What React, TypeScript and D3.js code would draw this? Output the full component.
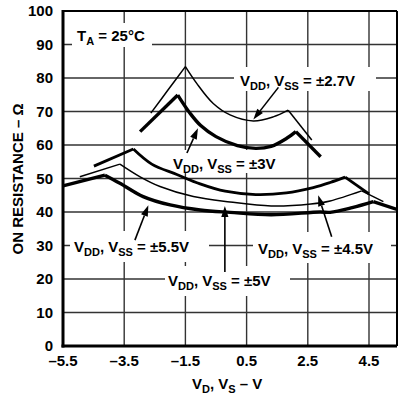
import React from "react";
import * as d3 from "d3";

type Pt = [number, number];

// Each series is given as segments split at its sharp peaks
const vdd27: Pt[][] = [
  [[-2.63, 69.5], [-2.07, 76.4], [-1.5, 83.4]],
  [[-1.5, 83.4], [-1.13, 78.4], [-0.59, 72.4], [-0.04, 69.0], [0.72, 67.2], [1.37, 68.4], [1.86, 70.4]],
  [[1.86, 70.4], [2.63, 61.5]],
];
const vdd3: Pt[][] = [
  [[-2.98, 64.0], [-1.75, 74.9]],
  [[-1.75, 74.9], [-1.35, 69.5], [-1.0, 65.8], [-0.5, 62.5], [0.2, 59.8], [0.8, 59.0], [1.3, 59.6], [1.81, 62.0], [2.11, 64.0]],
  [[2.11, 64.0], [2.92, 56.5]],
];
const vdd45: Pt[][] = [
  [[-4.49, 53.7], [-3.2, 58.8]],
  [[-3.2, 58.8], [-2.6, 54.3], [-1.78, 51.2], [-1.02, 48.4], [-0.2, 46.2], [0.8, 45.2], [1.8, 45.7], [2.68, 47.3], [3.23, 48.8], [3.72, 50.4]],
  [[3.72, 50.4], [4.5, 45.4]],
];
const vdd5: Pt[][] = [
  [[-4.95, 50.5], [-3.64, 54.3]],
  [[-3.64, 54.3], [-2.98, 50.5], [-2.33, 47.6], [-1.24, 44.6], [-0.04, 43.0], [1.3, 41.8], [2.6, 42.4], [3.23, 43.3], [4.26, 46.3]],
  [[4.26, 46.3], [4.97, 43.1]],
];
const vdd55: Pt[][] = [
  [[-5.5, 47.8], [-4.13, 51.0]],
  [[-4.13, 51.0], [-3.64, 48.6], [-2.88, 44.6], [-2.0, 42.1], [-1.02, 40.6], [-0.04, 39.9], [1.3, 39.2], [2.9, 40.0], [3.23, 39.9], [3.95, 41.3], [4.64, 43.1]],
  [[4.64, 43.1], [5.5, 40.5]],
];

const xTicks = [-5.5, -3.5, -1.5, 0.5, 2.5, 4.5];
const yTicks = [0, 10, 20, 30, 40, 50, 60, 70, 80, 90, 100];

// arrows: [tailX, tailY, tipX, tipY] in data units
const arrows: [number, number, number, number][] = [
  [1.54, 77.2, 0.72, 67.6],
  [-1.45, 57.6, -1.09, 65.0],
  [-3.15, 31.6, -2.71, 42.0],
  [-0.21, 22.1, -0.21, 41.8],
  [3.28, 32.6, 2.84, 45.0],
];

const FONT = "'Liberation Sans', Arial, Helvetica, sans-serif";

const x = d3.scaleLinear().domain([-5.5, 5.5]).range([63, 399.6]);
const y = d3.scaleLinear().domain([0, 100]).range([346, 11]);

const line = d3
  .line<Pt>()
  .x((d) => x(d[0]))
  .y((d) => y(d[1]))
  .curve(d3.curveCatmullRom.alpha(0.5));

function Series({ segs, w }: { segs: Pt[][]; w: number }) {
  return (
    <g fill="none" stroke="#000" strokeWidth={w} strokeLinejoin="miter" strokeLinecap="butt">
      {segs.map((s, i) => (
        <path key={i} d={line(s) || ""} />
      ))}
    </g>
  );
}

function VLabel({ x0, yb, val }: { x0: number; yb: number; val: string }) {
  return (
    <text x={x0} y={yb} fontFamily={FONT} fontWeight="bold" fontSize={15} fill="#000">
      V<tspan fontSize={11} dy={4}>DD</tspan>
      <tspan dy={-4}>, V</tspan>
      <tspan fontSize={11} dy={4}>SS</tspan>
      <tspan dy={-4}>{` = ±${val}V`}</tspan>
    </text>
  );
}

function Arrow({ a }: { a: [number, number, number, number] }) {
  const x1 = x(a[0]), y1 = y(a[1]), x2 = x(a[2]), y2 = y(a[3]);
  const ang = Math.atan2(y2 - y1, x2 - x1);
  const L = 11, W = 3.6;
  const bx = x2 - L * Math.cos(ang), by = y2 - L * Math.sin(ang);
  const px = -Math.sin(ang) * W, py = Math.cos(ang) * W;
  return (
    <g>
      <line x1={x1} y1={y1} x2={bx} y2={by} stroke="#000" strokeWidth={1.6} />
      <path d={`M${x2},${y2}L${bx + px},${by + py}L${bx - px},${by - py}Z`} fill="#000" />
    </g>
  );
}

export default function App() {
  const boxes: [number, number, number, number][] = [
    [72, 23, 80, 24],
    [234, 67, 142, 24],
    [168, 150, 126, 23],
    [70, 231, 139, 31],
    [165, 266, 125, 30],
    [253, 232, 138, 31],
  ];
  return (
    <svg width={398} height={397} style={{ position: "absolute", left: 0, top: 0 }}>
      <rect width={398} height={397} fill="#fff" />
      {/* grid */}
      <g stroke="#333" strokeWidth={1.4}>
        {yTicks.slice(1, -1).map((t) => (
          <line key={"h" + t} x1={63} x2={397} y1={y(t)} y2={y(t)} />
        ))}
        {xTicks.slice(1).map((t) => (
          <line key={"v" + t} x1={x(t)} x2={x(t)} y1={11} y2={346} />
        ))}
      </g>
      {/* label backgrounds */}
      {boxes.map((b, i) => (
        <rect key={i} x={b[0]} y={b[1]} width={b[2]} height={b[3]} fill="#fff" />
      ))}
      {/* frame */}
      <line x1={63} x2={397} y1={11} y2={11} stroke="#000" strokeWidth={2} />
      <line x1={397} x2={397} y1={11} y2={346} stroke="#000" strokeWidth={2} />
      <line x1={63} x2={63} y1={10} y2={347.5} stroke="#000" strokeWidth={3} />
      <line x1={61.5} x2={397} y1={346} y2={346} stroke="#000" strokeWidth={3} />

      {/* curves */}
      <Series segs={vdd27} w={1.5} />
      <Series segs={vdd3} w={3.4} />
      <Series segs={vdd45} w={2.8} />
      <Series segs={vdd5} w={1.5} />
      <Series segs={vdd55} w={3.4} />

      {arrows.map((a, i) => (
        <Arrow key={i} a={a} />
      ))}

      {/* tick labels */}
      <g fontFamily={FONT} fontWeight="bold" fontSize={15} fill="#000">
        {yTicks.map((t) => (
          <text key={"yl" + t} x={53} y={y(t)} dy="0.36em" textAnchor="end">
            {t}
          </text>
        ))}
        {xTicks.map((t) => (
          <text key={"xl" + t} x={x(t)} y={366} textAnchor="middle">
            {t < 0 ? "–" + Math.abs(t).toFixed(1) : t.toFixed(1)}
          </text>
        ))}
      </g>

      {/* titles */}
      <text x={192} y={389} fontFamily={FONT} fontWeight="bold" fontSize={15}>
        V<tspan fontSize={11} dy={4}>D</tspan>
        <tspan dy={-4}>, V</tspan>
        <tspan fontSize={11} dy={4}>S</tspan>
        <tspan dy={-4}> – V</tspan>
      </text>
      <text
        transform="translate(22.5,179) rotate(-90)"
        textAnchor="middle"
        fontFamily={FONT}
        fontWeight="bold"
        fontSize={15}
      >
        ON RESISTANCE – Ω
      </text>

      {/* annotations */}
      <text x={77} y={40.5} fontFamily={FONT} fontWeight="bold" fontSize={15}>
        T<tspan fontSize={11} dy={4}>A</tspan>
        <tspan dy={-4}> = 25°C</tspan>
      </text>
      <VLabel x0={240} yb={85.5} val="2.7" />
      <VLabel x0={173} yb={168.5} val="3" />
      <VLabel x0={74} yb={252} val="5.5" />
      <VLabel x0={168} yb={285.5} val="5" />
      <VLabel x0={258} yb={253.5} val="4.5" />
    </svg>
  );
}
